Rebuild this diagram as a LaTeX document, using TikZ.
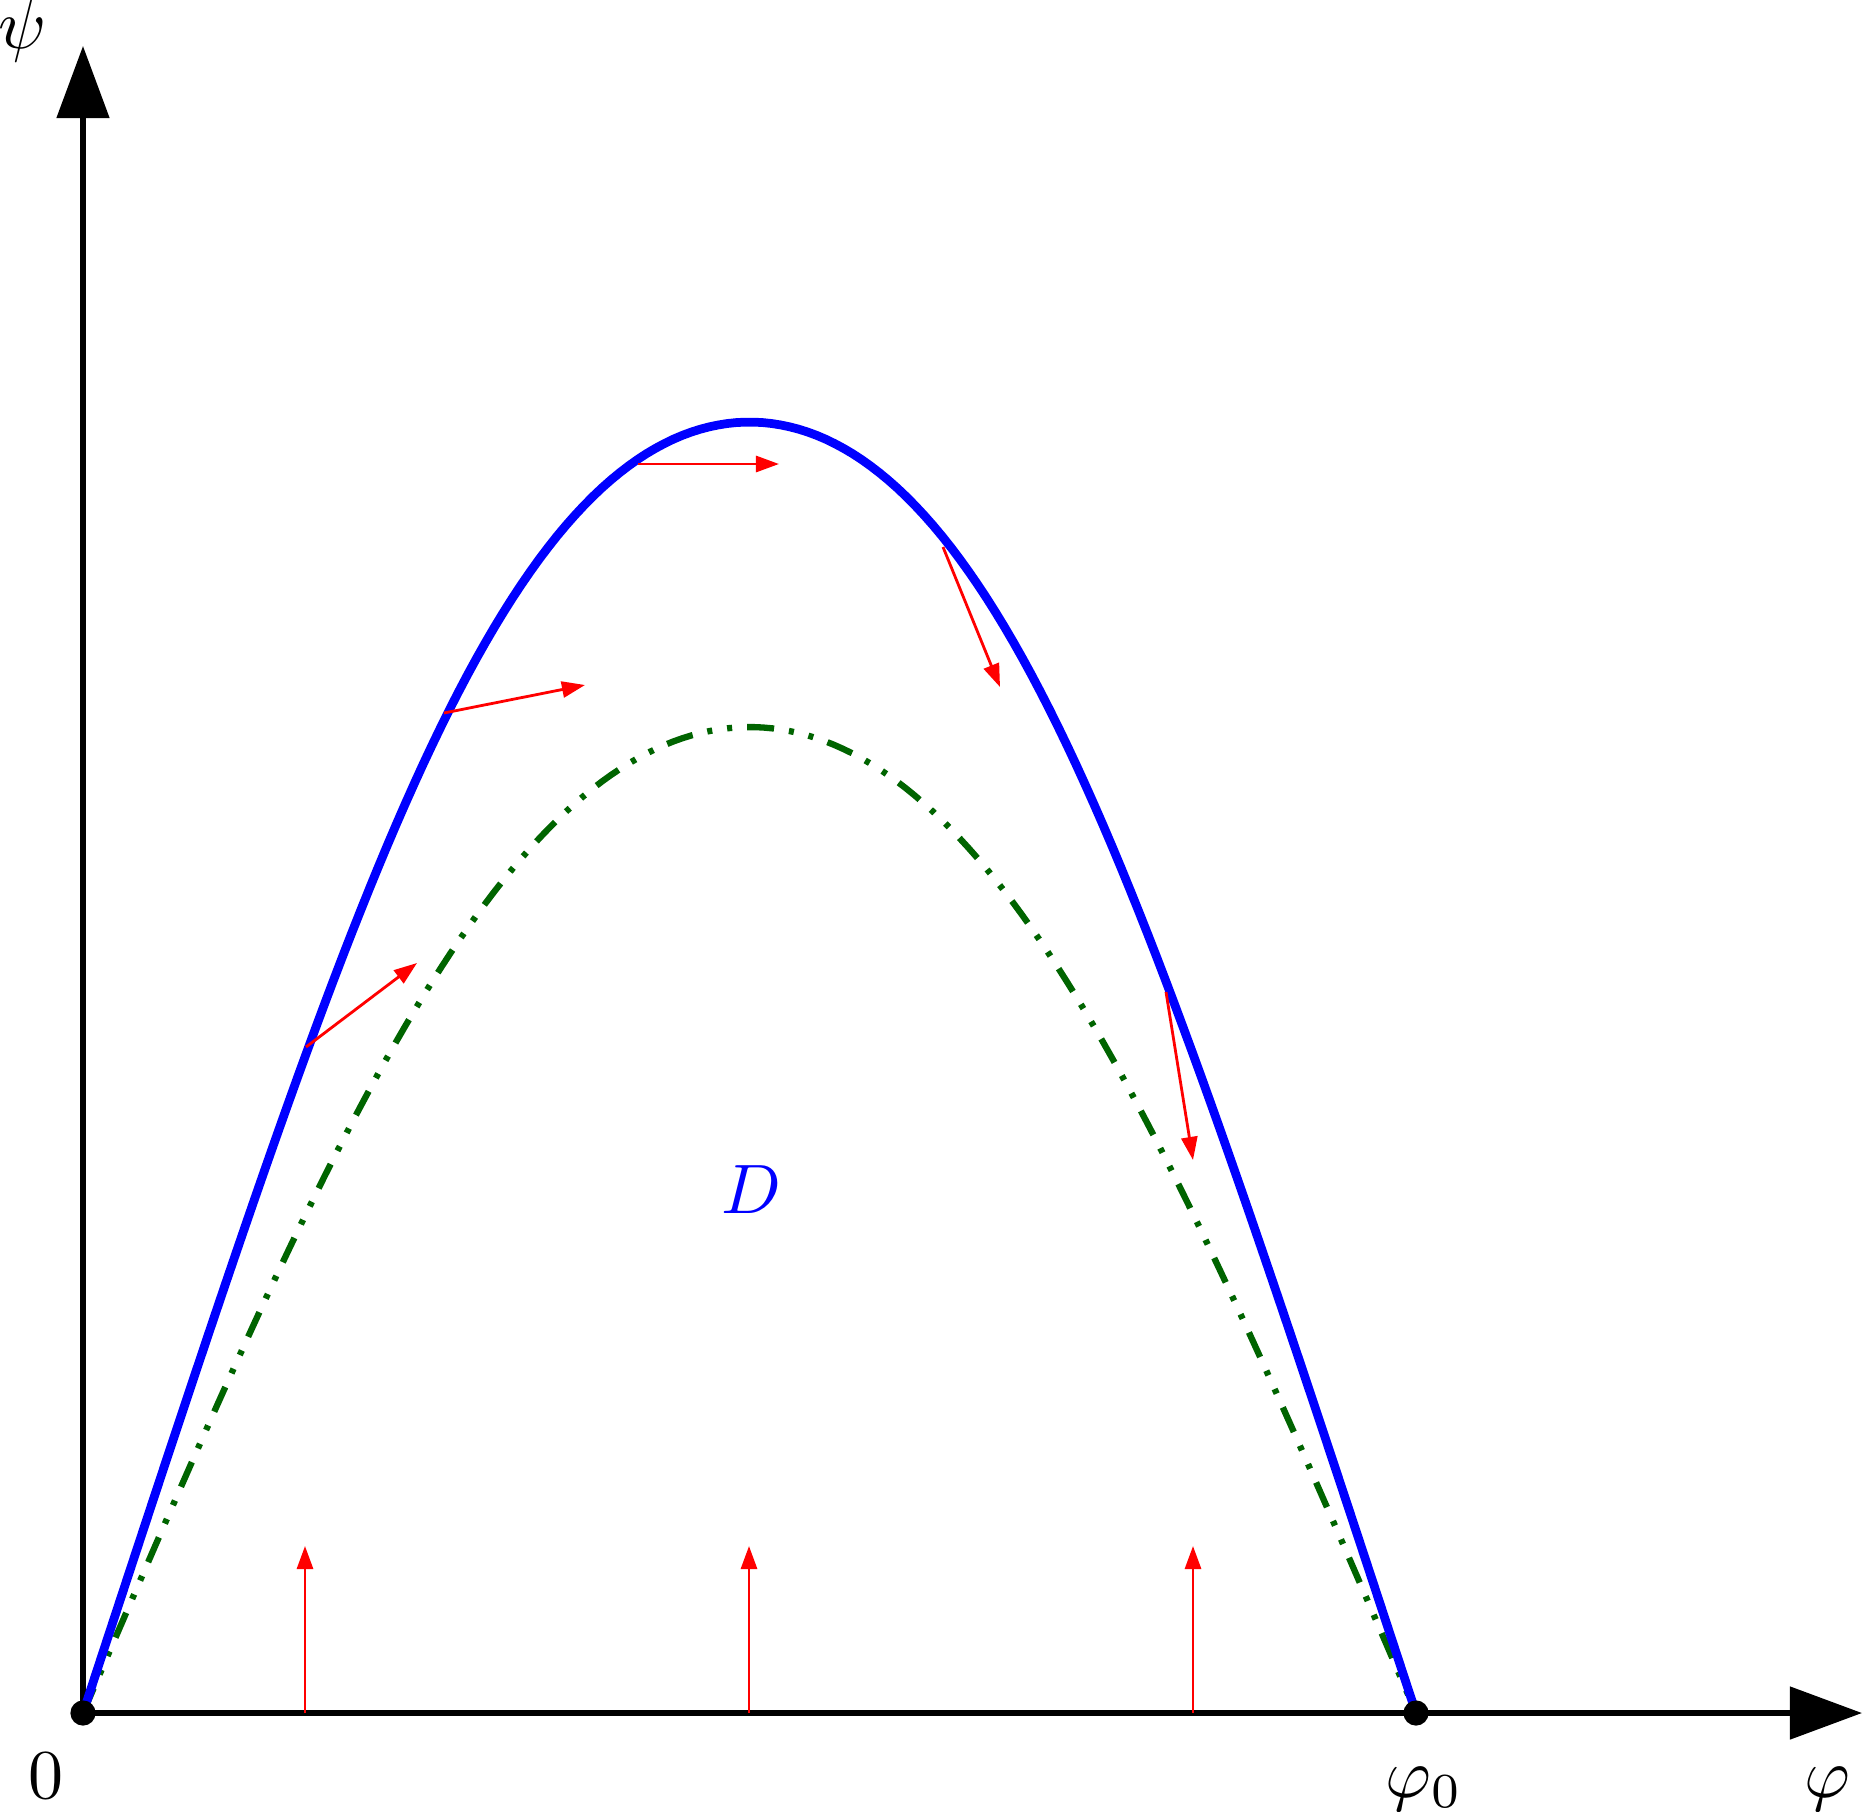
\documentclass[tikz,border=0pt]{standalone}
\usetikzlibrary{arrows.meta}
\definecolor{dgreen}{RGB}{0,100,0}
\tikzset{
  axis/.style={line width=0.8pt,-{Triangle[length=10.3pt,width=7.4pt]}},
  bluecurve/.style={blue,line width=1.25pt},
  greencurve/.style={dgreen,line width=0.9pt,dash pattern=on 3.85pt off 2.15pt on 0.72pt off 2.15pt on 0.72pt off 2.15pt},
  vec/.style={red,line width=0.4pt,-{Triangle[length=3.3pt,width=2.3pt]}},
  lbl/.style={inner sep=0pt,font=\fontsize{10}{12}\selectfont},
  dot/.style={circle,fill=black,inner sep=0pt,minimum size=3.6pt}
}
\begin{document}
\begin{tikzpicture}[x=0.142857pt,y=-0.142857pt]
\useasboundingbox (0,0) rectangle (1863,1811);
\coordinate (O) at (83,1713);
\coordinate (P0) at (1416,1713);
\coordinate (Xend) at (1862,1713);
\coordinate (Yend) at (83,46);
% axes
\draw[axis] (O) -- (Xend);
\draw[axis] (O) -- (Yend);
% curves
\draw[greencurve] plot[domain=0:180,samples=150] ({83+7.40556*\x},{1713-986*(sin(\x)+0.012*sin(2*\x)*sin(2*\x)*sin(\x))});
\draw[bluecurve] plot[domain=0:180,samples=150] ({83+7.40556*\x},{1713-1291*(sin(\x)+0.023*sin(2*\x)*sin(2*\x)*sin(\x))});
% red vectors
\coordinate (a1) at (638,464);  \coordinate (b1) at (779,464);
\coordinate (a2) at (444,713);  \coordinate (b2) at (585,685);
\coordinate (a3) at (306,1047); \coordinate (b3) at (417,963);
\coordinate (a4) at (943,547);  \coordinate (b4) at (1000,687);
\coordinate (a5) at (1166,992); \coordinate (b5) at (1193,1160);
\coordinate (a6) at (305,1713); \coordinate (b6) at (305,1546);
\coordinate (a7) at (749,1713); \coordinate (b7) at (749,1546);
\coordinate (a8) at (1193,1713); \coordinate (b8) at (1193,1546);
\foreach \i in {1,...,8} { \draw[vec] (a\i) -- (b\i); }
% dots
\node[dot] (dO) at (O) {};
\node[dot] (dP) at (P0) {};
% labels
\node[lbl] (psi) at (23,31) {$\psi$};
\node[lbl] (zero) at (46,1776) {$0$};
\node[lbl,anchor=base] (phi0) at (1424,1797) {$\varphi_0$};
\node[lbl,anchor=base] (phi) at (1827,1797) {$\varphi$};
\node[lbl,blue] (D) at (751,1190) {$D$};
\end{tikzpicture}
\end{document}
